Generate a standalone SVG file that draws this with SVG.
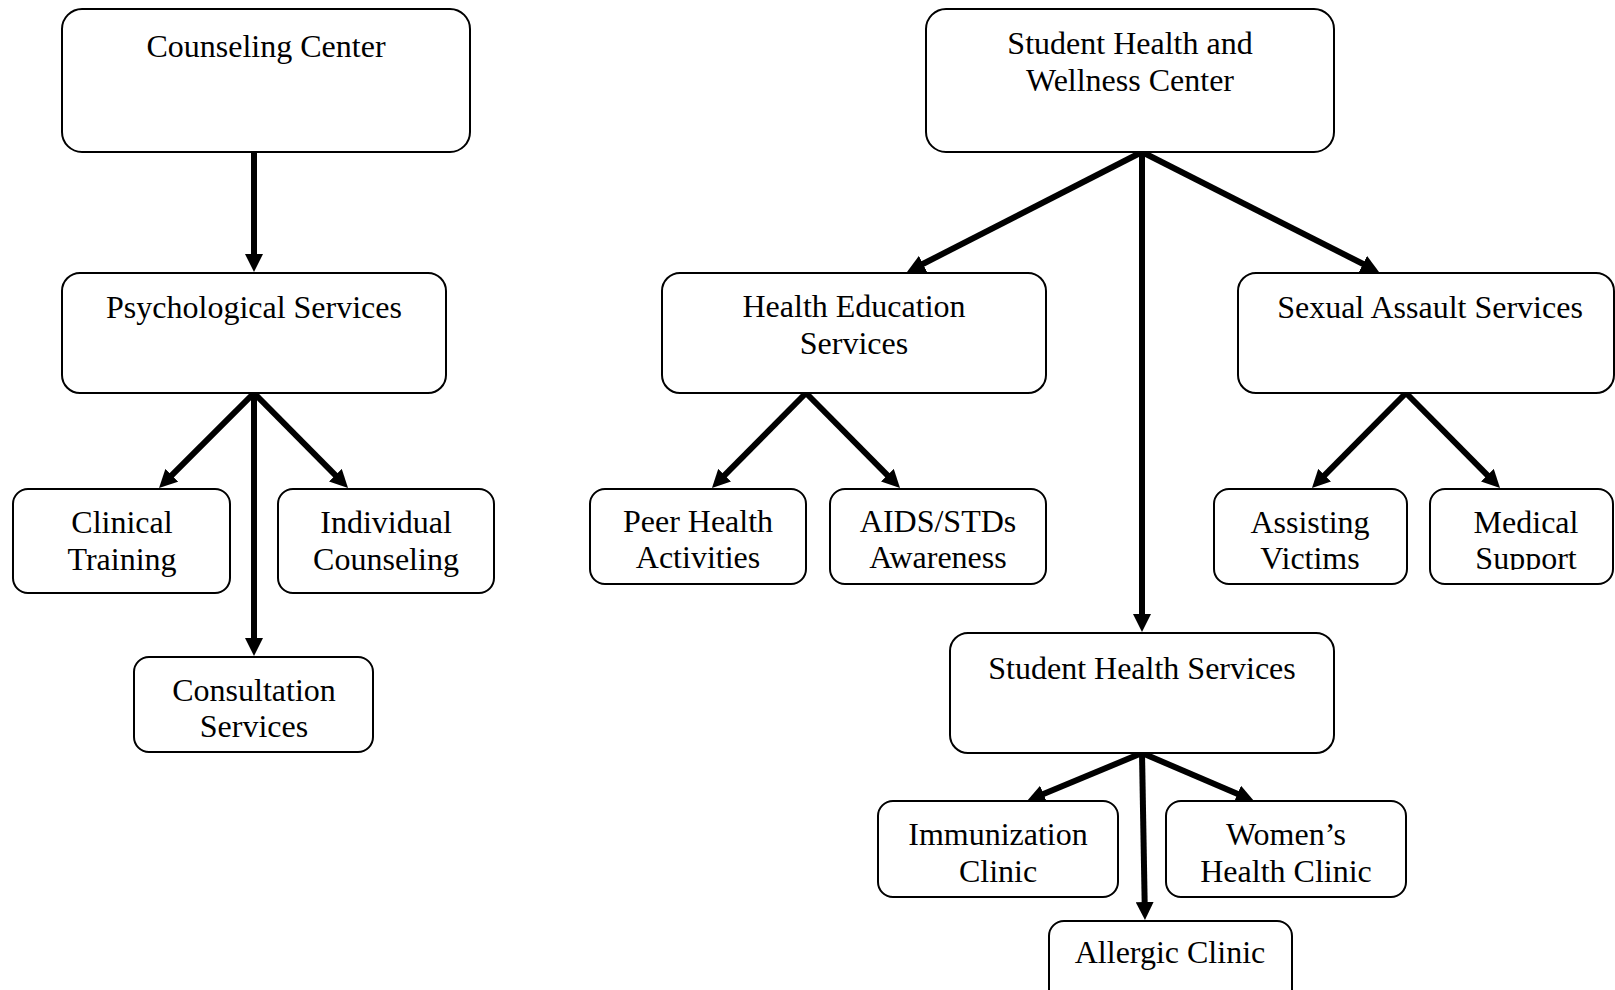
<svg xmlns="http://www.w3.org/2000/svg" width="1615" height="990" viewBox="0 0 1615 990">
<style>
  .box { fill: #ffffff; stroke: #000000; stroke-width: 2; }
  .lbl { font-family: "Liberation Serif", "Times New Roman", serif; font-size: 32px; fill: #000000; text-anchor: middle; }
  .conn { stroke: #000000; stroke-width: 6; fill: none; marker-end: url(#arrow); }
</style>
<defs>
  <marker id="arrow" markerUnits="userSpaceOnUse" markerWidth="18" markerHeight="18" refX="8" refY="9" orient="auto">
    <path d="M0,0 L18,9 L0,18 Z" fill="#000000"/>
  </marker>
  <clipPath id="clipBottomRow">
    <rect x="0" y="0" width="1615" height="570"/>
  </clipPath>
</defs>
<rect x="0" y="0" width="1615" height="990" fill="#ffffff"/>

<g id="connectors">
  <line class="conn" x1="254" y1="152" x2="254" y2="262"/>
  <line class="conn" x1="254" y1="393" x2="166.1" y2="480.9"/>
  <line class="conn" x1="254" y1="393" x2="254" y2="646"/>
  <line class="conn" x1="254" y1="393" x2="341" y2="480.9"/>
  <line class="conn" x1="1142" y1="152" x2="915.9" y2="267.5"/>
  <line class="conn" x1="1142" y1="152" x2="1142" y2="622"/>
  <line class="conn" x1="1142" y1="152" x2="1370.1" y2="267.5"/>
  <line class="conn" x1="806" y1="393" x2="719" y2="480.9"/>
  <line class="conn" x1="806" y1="393" x2="893" y2="480.9"/>
  <line class="conn" x1="1406" y1="393" x2="1319" y2="480.9"/>
  <line class="conn" x1="1406" y1="393" x2="1493" y2="480.9"/>
  <line class="conn" x1="1142" y1="753" x2="1036.2" y2="797.1"/>
  <line class="conn" x1="1142" y1="753" x2="1244.8" y2="797.1"/>
  <line class="conn" x1="1142" y1="753" x2="1144.8" y2="910"/>
</g>

<g id="counseling-center">
  <rect class="box" x="62" y="9" width="408" height="143" rx="20"/>
  <text class="lbl" x="266" y="57">Counseling Center</text>
</g>
<g id="psychological-services">
  <rect class="box" x="62" y="273" width="384" height="120" rx="18"/>
  <text class="lbl" x="254" y="318">Psychological Services</text>
</g>
<g id="clinical-training">
  <rect class="box" x="13" y="489" width="217" height="104" rx="15"/>
  <text class="lbl" x="122" y="533">Clinical</text>
  <text class="lbl" x="122" y="570">Training</text>
</g>
<g id="individual-counseling">
  <rect class="box" x="278" y="489" width="216" height="104" rx="15"/>
  <text class="lbl" x="386" y="533">Individual</text>
  <text class="lbl" x="386" y="570">Counseling</text>
</g>
<g id="consultation-services">
  <rect class="box" x="134" y="657" width="239" height="95" rx="15"/>
  <text class="lbl" x="254" y="701">Consultation</text>
  <text class="lbl" x="254" y="737">Services</text>
</g>

<g id="student-health-wellness-center">
  <rect class="box" x="926" y="9" width="408" height="143" rx="20"/>
  <text class="lbl" x="1130" y="54">Student Health and</text>
  <text class="lbl" x="1130" y="91">Wellness Center</text>
</g>
<g id="health-education-services">
  <rect class="box" x="662" y="273" width="384" height="120" rx="18"/>
  <text class="lbl" x="854" y="317">Health Education</text>
  <text class="lbl" x="854" y="354">Services</text>
</g>
<g id="sexual-assault-services">
  <rect class="box" x="1238" y="273" width="376" height="120" rx="18"/>
  <text class="lbl" x="1430" y="318">Sexual Assault Services</text>
</g>
<g id="peer-health-activities">
  <rect class="box" x="590" y="489" width="216" height="95" rx="15"/>
  <text class="lbl" x="698" y="532">Peer Health</text>
  <text class="lbl" x="698" y="568">Activities</text>
</g>
<g id="aids-stds-awareness">
  <rect class="box" x="830" y="489" width="216" height="95" rx="15"/>
  <text class="lbl" x="938" y="532">AIDS/STDs</text>
  <text class="lbl" x="938" y="568">Awareness</text>
</g>
<g id="assisting-victims">
  <rect class="box" x="1214" y="489" width="193" height="95" rx="15"/>
  <g clip-path="url(#clipBottomRow)">
    <text class="lbl" x="1310" y="533">Assisting</text>
    <text class="lbl" x="1310" y="569">Victims</text>
  </g>
</g>
<g id="medical-support">
  <rect class="box" x="1430" y="489" width="183" height="95" rx="15"/>
  <g clip-path="url(#clipBottomRow)">
    <text class="lbl" x="1526" y="533">Medical</text>
    <text class="lbl" x="1526" y="569">Support</text>
  </g>
</g>
<g id="student-health-services">
  <rect class="box" x="950" y="633" width="384" height="120" rx="18"/>
  <text class="lbl" x="1142" y="679">Student Health Services</text>
</g>
<g id="immunization-clinic">
  <rect class="box" x="878" y="801" width="240" height="96" rx="15"/>
  <text class="lbl" x="998" y="845">Immunization</text>
  <text class="lbl" x="998" y="882">Clinic</text>
</g>
<g id="womens-health-clinic">
  <rect class="box" x="1166" y="801" width="240" height="96" rx="15"/>
  <text class="lbl" x="1286" y="845">Women’s</text>
  <text class="lbl" x="1286" y="882">Health Clinic</text>
</g>
<g id="allergic-clinic">
  <rect class="box" x="1049" y="921" width="243" height="96" rx="15"/>
  <text class="lbl" x="1170" y="963">Allergic Clinic</text>
</g>
</svg>
